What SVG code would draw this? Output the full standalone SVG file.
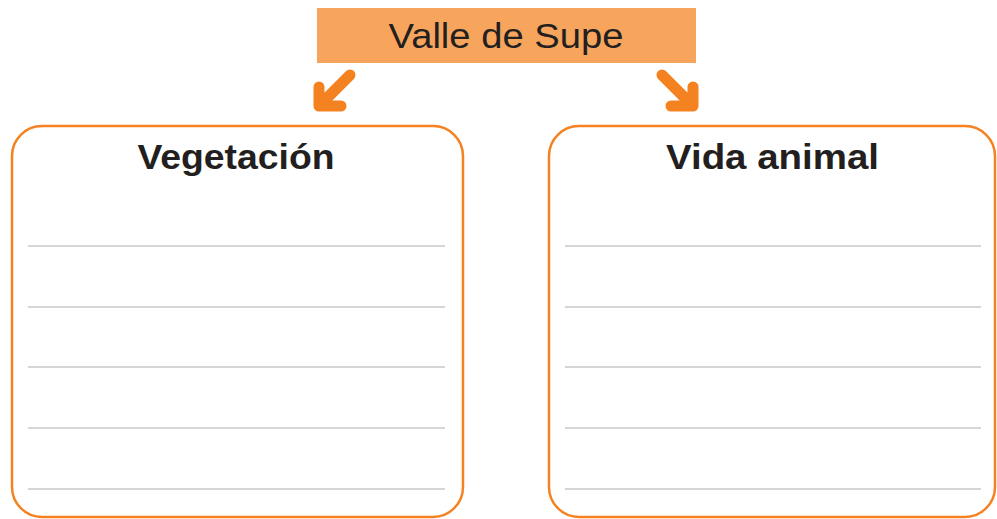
<svg xmlns="http://www.w3.org/2000/svg" width="997" height="519" viewBox="0 0 997 519">
<style>
.box{fill:#fff;stroke:#F58220;stroke-width:2.5}
.line{stroke:#C8C8C8;stroke-width:1.5}
.arrow{fill:none;stroke:#F58220;stroke-width:11;stroke-linecap:round;stroke-linejoin:round}
.title{font-family:"Liberation Sans",Arial,sans-serif;fill:#231F20;text-anchor:middle}
</style>
<rect width="997" height="519" fill="#fff"/>
<g id="valle">
<rect x="317" y="8" width="379" height="55" fill="#F7A45C"/>
<text class="title" x="506" y="48" font-size="35" textLength="235" lengthAdjust="spacingAndGlyphs">Valle de Supe</text>
</g>
<g id="connectors">
<path class="arrow" d="M350 75 L321 104 M319 87 L319 106 L341 106"/>
<path class="arrow" d="M662 75 L691 104 M693 87 L693 106 L671 106"/>
</g>
<g id="vegetacion">
<rect class="box" x="12" y="126" width="451" height="391" rx="30"/>
<text class="title" x="236" y="169" font-size="35" font-weight="bold" textLength="197" lengthAdjust="spacingAndGlyphs">Vegetación</text>
<g class="line">
<line x1="28" y1="246" x2="445" y2="246"/>
<line x1="28" y1="307" x2="445" y2="307"/>
<line x1="28" y1="367" x2="445" y2="367"/>
<line x1="28" y1="428" x2="445" y2="428"/>
<line x1="28" y1="489" x2="445" y2="489"/>
</g>
</g>
<g id="vida">
<rect class="box" x="549" y="126" width="446" height="391" rx="30"/>
<text class="title" x="772.5" y="169" font-size="35" font-weight="bold" textLength="213" lengthAdjust="spacingAndGlyphs">Vida animal</text>
<g class="line">
<line x1="565" y1="246" x2="981" y2="246"/>
<line x1="565" y1="307" x2="981" y2="307"/>
<line x1="565" y1="367" x2="981" y2="367"/>
<line x1="565" y1="428" x2="981" y2="428"/>
<line x1="565" y1="489" x2="981" y2="489"/>
</g>
</g>
</svg>
